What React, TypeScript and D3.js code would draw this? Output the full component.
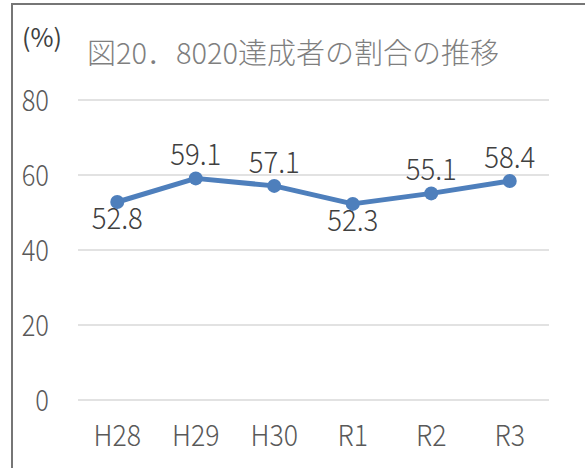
import { useEffect, useRef } from 'react';
import * as d3 from 'd3';

const YEARS = ['H28', 'H29', 'H30', 'R1', 'R2', 'R3'];
const RATES = [52.8, 59.1, 57.1, 52.3, 55.1, 58.4];
const LABEL_BELOW = [true, false, false, true, false, false];
const Y_TICKS = [0, 20, 40, 60, 80];
const TITLE = '図20．8020達成者の割合の推移';
const UNIT = '(%)';

const FONT = '"Noto Sans CJK JP", "Noto Sans", sans-serif';
const LINE_COLOR = '#4E7FBC';
const NARROW = 0.92; // reference digits are a bit narrower than Noto's

export default function App() {
  const svgRef = useRef<SVGSVGElement>(null);

  useEffect(() => {
    const svgEl = svgRef.current;
    if (!svgEl) return;
    const width = 585, height = 468;
    const plot = { left: 78, right: 549, top: 100, bottom: 400 };

    const svg = d3.select(svgEl).attr('viewBox', `0 0 ${width} ${height}`);
    svg.selectAll('*').remove();

    svg.append('rect').attr('width', width).attr('height', height).attr('fill', '#fff');
    // outer chart frame (runs past the picture on the right and bottom)
    svg.append('rect').attr('x', 12).attr('y', 4).attr('width', 620).attr('height', 520)
      .attr('fill', 'none').attr('stroke', '#767676').attr('stroke-width', 2);

    const x = d3.scaleBand<string>().domain(YEARS).range([plot.left, plot.right]);
    const y = d3.scaleLinear().domain([0, 80]).range([plot.bottom, plot.top]);
    const cx = (d: string) => (x(d) ?? 0) + x.bandwidth() / 2;
    const at = (px: number, py: number, k = NARROW) => `translate(${px},${py}) scale(${k},1)`;

    svg.append('g').selectAll('line').data(Y_TICKS).join('line')
      .attr('x1', plot.left).attr('x2', plot.right)
      .attr('y1', (d) => y(d)).attr('y2', (d) => y(d))
      .attr('stroke', '#D9D9D9').attr('stroke-width', 1.5);

    svg.append('g').selectAll('text').data(Y_TICKS).join('text')
      .attr('transform', (d) => at(49, y(d) + 10.5, 0.88))
      .attr('text-anchor', 'end').attr('font-family', FONT).attr('font-size', 29).attr('font-weight', 300)
      .attr('fill', '#595959').text((d) => d);

    svg.append('g').selectAll('text').data(YEARS).join('text')
      .attr('transform', (d) => at(cx(d), 446))
      .attr('text-anchor', 'middle').attr('font-family', FONT).attr('font-size', 29).attr('font-weight', 300)
      .attr('fill', '#595959').text((d) => d);

    svg.append('text').attr('x', 22).attr('y', 47)
      .attr('font-family', FONT).attr('font-size', 25)
      .attr('fill', '#404040').text(UNIT);

    svg.append('text').attr('x', 87).attr('y', 64)
      .attr('font-family', FONT).attr('font-size', 29).attr('font-weight', 300)
      .attr('fill', '#7F7F7F').text(TITLE);

    const line = d3.line<number>().x((_, i) => cx(YEARS[i])).y((d) => y(d));
    svg.append('path').datum(RATES).attr('d', line)
      .attr('fill', 'none').attr('stroke', LINE_COLOR).attr('stroke-width', 5)
      .attr('stroke-linejoin', 'round').attr('stroke-linecap', 'round');

    svg.append('g').selectAll('circle').data(RATES).join('circle')
      .attr('cx', (_, i) => cx(YEARS[i])).attr('cy', (d) => y(d)).attr('r', 7)
      .attr('fill', LINE_COLOR);

    svg.append('g').selectAll('text').data(RATES).join('text')
      .attr('transform', (d, i) => at(cx(YEARS[i]), LABEL_BELOW[i] ? y(d) + 27 : y(d) - 13))
      .attr('text-anchor', 'middle').attr('font-family', FONT).attr('font-size', 30).attr('font-weight', 300)
      .attr('fill', '#404040').text((d) => d.toFixed(1));
  }, []);

  return (
    <svg ref={svgRef} width={585} height={468}
      style={{ position: 'absolute', left: 0, top: 0, display: 'block' }}
      role="img" aria-label={TITLE} />
  );
}
